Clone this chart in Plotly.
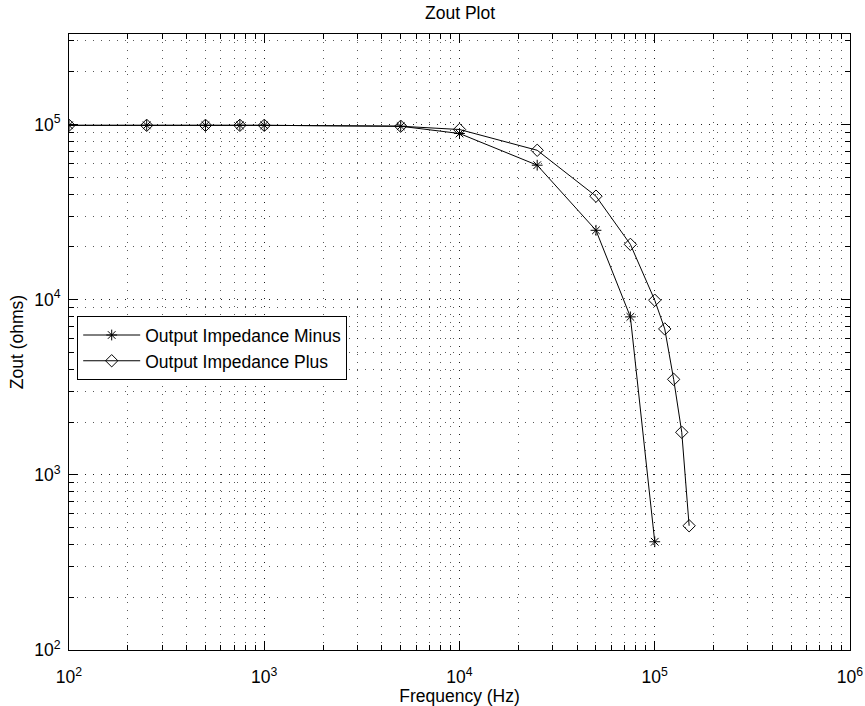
import plotly.graph_objects as go

# Data
freq_minus = [100, 250, 500, 750, 1000, 5000, 10000, 25000, 50000, 75000, 100000]
zout_minus = [99000, 99000, 99000, 99000, 99000, 97800, 88900, 58600, 24900, 7980, 415]

freq_plus = [100, 250, 500, 750, 1000, 5000, 10000, 25000, 50000, 75000,
             100000, 112500, 125000, 137500, 150000]
zout_plus = [99000, 99000, 99000, 99000, 99000, 97800, 93700, 71300, 39000, 20700,
             9930, 6810, 3510, 1750, 512]

x_tickvals = [1e2, 1e3, 1e4, 1e5, 1e6]
x_ticktext = ["10<sup>2</sup>", "10<sup>3</sup>", "10<sup>4</sup>", "10<sup>5</sup>", "10<sup>6</sup>"]
y_tickvals = [1e2, 1e3, 1e4, 1e5]
y_ticktext = ["10<sup>2</sup>", "10<sup>3</sup>", "10<sup>4</sup>", "10<sup>5</sup>"]

FONT = "Liberation Sans, Arial, Helvetica, sans-serif"
FS = 17.5
GRID = "rgba(0,0,0,0.65)"
DASH = "1px,7px"

fig = go.Figure()
fig.add_trace(go.Scatter(
    x=freq_minus, y=zout_minus, mode="lines+markers",
    name="Output Impedance Minus",
    line=dict(color="black", width=1),
    marker=dict(symbol="asterisk-open", size=9, color="black",
                line=dict(color="black", width=1)),
))
fig.add_trace(go.Scatter(
    x=freq_plus, y=zout_plus, mode="lines+markers",
    name="Output Impedance Plus",
    line=dict(color="black", width=1),
    marker=dict(symbol="diamond-open", size=9.5, color="black",
                line=dict(color="black", width=1)),
))

common = dict(
    showgrid=True, gridcolor=GRID, griddash=DASH, gridwidth=1,
    ticks="inside", ticklen=9, tickcolor="black", tickwidth=1, showline=True,
    linecolor="black", linewidth=1, mirror="allticks", zeroline=False,
    automargin=False,
    tickfont=dict(size=FS, color="black", family=FONT),
    minor=dict(dtick="D1", ticks="inside", ticklen=5, tickcolor="black",
               showgrid=True, gridcolor=GRID, griddash=DASH, gridwidth=1),
)

fig.update_xaxes(
    type="log", range=[2, 6], tickmode="array",
    tickvals=x_tickvals, ticktext=x_ticktext,
    ticklabelstandoff=11,
    title=dict(text="Frequency (Hz)", font=dict(size=FS, color="black", family=FONT), standoff=3),
    **common,
)
fig.update_yaxes(
    type="log", range=[2, 5.517], tickmode="array",
    tickvals=y_tickvals, ticktext=y_ticktext,
    ticklabelstandoff=4,
    title=dict(text="Zout (ohms)", font=dict(size=FS, color="black", family=FONT), standoff=6),
    **common,
)

fig.update_layout(
    width=865, height=706,
    margin=dict(l=69, r=15, t=34, b=56),
    paper_bgcolor="white", plot_bgcolor="white",
    font=dict(family=FONT, color="black", size=FS),
    showlegend=True,
    legend=dict(x=0.0105, y=0.542, xanchor="left", yanchor="top",
                bgcolor="white", bordercolor="black", borderwidth=1,
                font=dict(size=FS, family=FONT, color="black"),
                tracegroupgap=0, itemwidth=57),
    annotations=[dict(text="Zout Plot", x=0.5, y=1, xref="paper", yref="paper",
                      yanchor="middle", yshift=21, showarrow=False,
                      font=dict(size=FS, family=FONT, color="black"))],
)

fig.write_html("out.html")
